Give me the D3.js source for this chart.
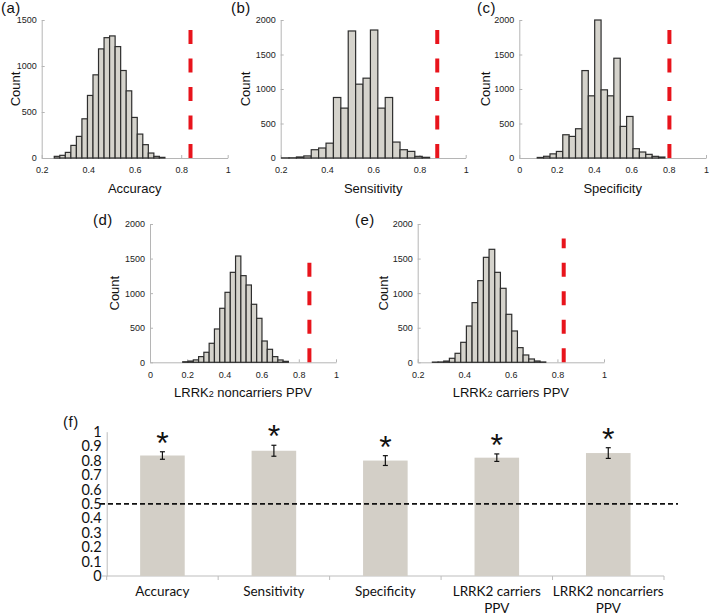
<!DOCTYPE html>
<html><head><meta charset="utf-8">
<script src="https://cdn.jsdelivr.net/npm/d3@7"></script>
<style>body{margin:0;background:#fff} svg{display:block}</style>
</head><body>
<svg id="chart" width="709" height="615"></svg>
<script>
// ---------- data: permutation histograms ----------
const accuracyCounts    = [18,29,61,137,235,426,680,904,1186,1308,1327,1211,951,730,441,260,145,54,18,7];
const accuracyRange     = [0.254, 0.730];
const accuracyObserved  = 0.84;

const sensitivityCounts   = [2,3,15,30,120,145,215,877,723,1841,1070,1157,1855,723,877,231,120,96,24,10];
const sensitivityRange    = [0.204, 0.844];
const sensitivityObserved = 0.877;

const specificityCounts   = [8,25,60,95,337,313,424,1267,901,2000,988,901,1446,458,602,135,87,53,24,14];
const specificityRange    = [0.096, 0.780];
const specificityObserved = 0.804;

const noncarriersCounts   = [8,18,35,82,145,275,482,781,1012,1301,1537,1253,1118,839,636,308,188,82,34,14];
const noncarriersRange    = [0.176, 0.744];
const noncarriersObserved = 0.857;

const carriersCounts   = [3,5,18,58,130,289,525,863,1181,1518,1634,1301,1070,694,453,212,106,48,19,5];
const carriersRange    = [0.263, 0.750];
const carriersObserved = 0.827;

const ticks02to1 = [0.2,0.4,0.6,0.8,1];
const ticks0to1  = [0,0.2,0.4,0.6,0.8,1];
const countTicks1500 = [0,500,1000,1500];
const countTicks2000 = [0,500,1000,1500,2000];

// ---------- data: panel (f) ----------
const metricNames  = ["Accuracy","Sensitivity","Specificity","LRRK2 carriers\nPPV","LRRK2 noncarriers\nPPV"];
const metricMeans  = [0.835, 0.868, 0.800, 0.820, 0.852];
const metricErrors = [0.026, 0.038, 0.034, 0.026, 0.037];
const chanceLevel  = 0.5;
const fTicks = [0,0.1,0.2,0.3,0.4,0.5,0.6,0.7,0.8,0.9,1];

// ---------- drawing ----------
const svg = d3.select("#chart");
const histFont = "'Liberation Sans', Arial, sans-serif";

const panels = [
  {lab:"(a)", labX:1,   labY:13, counts:accuracyCounts, range:accuracyRange, obs:accuracyObserved, redTop:1400,
   xDom:[0.2,1], xTicks:ticks02to1, yMax:1500, yTicks:countTicks1500, left:41.7, right:227.7, top:20, bottom:158,
   title:["Accuracy"], countX:15},
  {lab:"(b)", labX:231, labY:13, counts:sensitivityCounts, range:sensitivityRange, obs:sensitivityObserved, redTop:1890,
   xDom:[0.2,1], xTicks:ticks02to1, yMax:2000, yTicks:countTicks2000, left:280.7, right:465.7, top:20, bottom:158,
   title:["Sensitivity"], countX:245},
  {lab:"(c)", labX:477, labY:13, counts:specificityCounts, range:specificityRange, obs:specificityObserved, redTop:1890,
   xDom:[0,1], xTicks:ticks0to1, yMax:2000, yTicks:countTicks2000, left:519.3, right:706, top:20, bottom:158,
   title:["Specificity"], countX:485},
  {lab:"(d)", labX:93,  labY:225, counts:noncarriersCounts, range:noncarriersRange, obs:noncarriersObserved, redTop:1480,
   xDom:[0,1], xTicks:ticks0to1, yMax:2000, yTicks:countTicks2000, left:150, right:336, top:224, bottom:362.3,
   title:["LRRK","2"," noncarriers PPV"], countX:114},
  {lab:"(e)", labX:355, labY:225, counts:carriersCounts, range:carriersRange, obs:carriersObserved, redTop:1790,
   xDom:[0.2,1], xTicks:ticks02to1, yMax:2000, yTicks:countTicks2000, left:417.7, right:604, top:224, bottom:362.3,
   title:["LRRK","2"," carriers PPV"], countX:383}
];

const fmt = d3.format("~g");
const fmtCount = d3.format("d");

panels.forEach(p => {
  const g = svg.append("g");
  const x = d3.scaleLinear().domain(p.xDom).range([p.left, p.right]);
  const y = d3.scaleLinear().domain([0, p.yMax]).range([p.bottom, p.top]);
  const n = p.counts.length;
  const w = (p.range[1] - p.range[0]) / n;

  // axes
  const xa = g.append("g").attr("transform", `translate(0,${p.bottom})`)
    .call(d3.axisBottom(x).tickValues(p.xTicks).tickFormat(fmt).tickSize(-3).tickSizeOuter(0).tickPadding(9));
  const ya = g.append("g").attr("transform", `translate(${p.left},0)`)
    .call(d3.axisLeft(y).tickValues(p.yTicks).tickFormat(fmtCount).tickSize(-3).tickSizeOuter(0).tickPadding(5));
  [xa, ya].forEach(a => {
    a.select(".domain").attr("stroke", "#b5b5b5");
    a.selectAll(".tick line").attr("stroke", "#b5b5b5");
    a.selectAll("text").attr("font-family", histFont).attr("font-size", 9).attr("fill", "#222");
  });

  // bars
  g.append("g").selectAll("rect").data(p.counts).join("rect")
    .attr("x", (d, i) => x(p.range[0] + i * w))
    .attr("width", x(p.range[0] + w) - x(p.range[0]))
    .attr("y", d => y(d))
    .attr("height", d => y(0) - y(d))
    .attr("fill", "#d5d3cc")
    .attr("stroke", "#2e2e2e")
    .attr("stroke-width", 1.2);

  // observed value
  g.append("line")
    .attr("x1", x(p.obs)).attr("x2", x(p.obs))
    .attr("y1", y(0)).attr("y2", y(p.redTop))
    .attr("stroke", "#e8141c").attr("stroke-width", 4)
    .attr("stroke-dasharray", "14,14.5");

  // Count label
  g.append("text")
    .attr("transform", `translate(${p.countX},${(p.top + p.bottom) / 2}) rotate(-90)`)
    .attr("text-anchor", "middle").attr("dominant-baseline", "central")
    .attr("font-family", histFont).attr("font-size", 13).attr("fill", "#111")
    .text("Count");

  // x title
  const t = g.append("text")
    .attr("x", (p.left + p.right) / 2).attr("y", p.bottom + 34.5)
    .attr("text-anchor", "middle")
    .attr("font-family", histFont).attr("font-size", 13).attr("fill", "#111");
  p.title.forEach((s, i) => {
    t.append("tspan").text(s).attr("font-size", (p.title.length === 3 && i === 1) ? 9 : 13);
  });

  // panel label
  svg.append("text").attr("x", p.labX).attr("y", p.labY)
    .attr("font-family", histFont).attr("font-size", 15).attr("letter-spacing", 0.5).attr("fill", "#111")
    .text(p.lab);
});

// ---------- panel (f) ----------
const fFont = "Lato, 'Open Sans', sans-serif";
const fx = d3.scaleBand().domain(metricNames).range([106.7, 664]).paddingInner(0).paddingOuter(0);
const fy = d3.scaleLinear().domain([0, 1]).range([576, 431.7]);
const gf = svg.append("g");

// y axis
const fya = gf.append("g").attr("transform", "translate(106.7,0)")
  .call(d3.axisLeft(fy).tickValues(fTicks).tickFormat(fmt).tickSize(0).tickPadding(5));
fya.select(".domain").attr("stroke", "#bdbdbd");
fya.selectAll("text").attr("font-family", fFont).attr("font-size", 14.5).attr("fill", "#111");

// x axis line and ticks at category boundaries
gf.append("line").attr("x1", 102).attr("x2", fx.range()[1]).attr("y1", fy(0)).attr("y2", fy(0))
  .attr("stroke", "#bdbdbd");
gf.append("g").selectAll("line").data(metricNames.concat(["__end"])).join("line")
  .attr("x1", d => d === "__end" ? fx.range()[1] : fx(d))
  .attr("x2", d => d === "__end" ? fx.range()[1] : fx(d))
  .attr("y1", fy(0)).attr("y2", fy(0) + 4)
  .attr("stroke", "#bdbdbd");

// bars
gf.append("g").selectAll("rect").data(metricNames).join("rect")
  .attr("x", d => fx(d) + fx.bandwidth() * 0.3)
  .attr("width", fx.bandwidth() * 0.4)
  .attr("y", (d, i) => fy(metricMeans[i]))
  .attr("height", (d, i) => fy(0) - fy(metricMeans[i]))
  .attr("fill", "#d3cfc7");

// chance line
gf.append("line").attr("x1", 100).attr("x2", 678)
  .attr("y1", fy(chanceLevel)).attr("y2", fy(chanceLevel))
  .attr("stroke", "#111").attr("stroke-width", 1.8).attr("stroke-dasharray", "5,3");

// error bars
const eb = gf.append("g").selectAll("g").data(metricNames).join("g")
  .attr("transform", d => `translate(${fx(d) + fx.bandwidth() / 2},0)`);
eb.append("line").attr("x1", 0).attr("x2", 0)
  .attr("y1", (d, i) => fy(metricMeans[i] - metricErrors[i]))
  .attr("y2", (d, i) => fy(metricMeans[i] + metricErrors[i]))
  .attr("stroke", "#111").attr("stroke-width", 1.2);
[-1, 1].forEach(s => {
  eb.append("line").attr("x1", -2.5).attr("x2", 2.5)
    .attr("y1", (d, i) => fy(metricMeans[i] + s * metricErrors[i]))
    .attr("y2", (d, i) => fy(metricMeans[i] + s * metricErrors[i]))
    .attr("stroke", "#111").attr("stroke-width", 1.2);
});
// significance asterisks
eb.append("text").attr("x", 0)
  .attr("y", (d, i) => fy(metricMeans[i] + metricErrors[i]) + 2)
  .attr("text-anchor", "middle")
  .attr("font-family", histFont).attr("font-size", 32).attr("fill", "#111")
  .text("*");

// category labels
const cl = gf.append("g").selectAll("text").data(metricNames).join("text")
  .attr("x", d => fx(d) + fx.bandwidth() / 2)
  .attr("y", 596)
  .attr("text-anchor", "middle")
  .attr("font-family", fFont).attr("font-size", 13.5).attr("fill", "#111");
cl.each(function(d) {
  const lines = d.split("\n");
  const el = d3.select(this);
  lines.forEach((s, i) => {
    el.append("tspan").attr("x", fx(d) + fx.bandwidth() / 2).attr("dy", i === 0 ? 0 : 17).text(s);
  });
});

svg.append("text").attr("x", 63).attr("y", 427)
  .attr("font-family", histFont).attr("font-size", 15).attr("letter-spacing", 0.5).attr("fill", "#111")
  .text("(f)");
</script>
</body></html>
